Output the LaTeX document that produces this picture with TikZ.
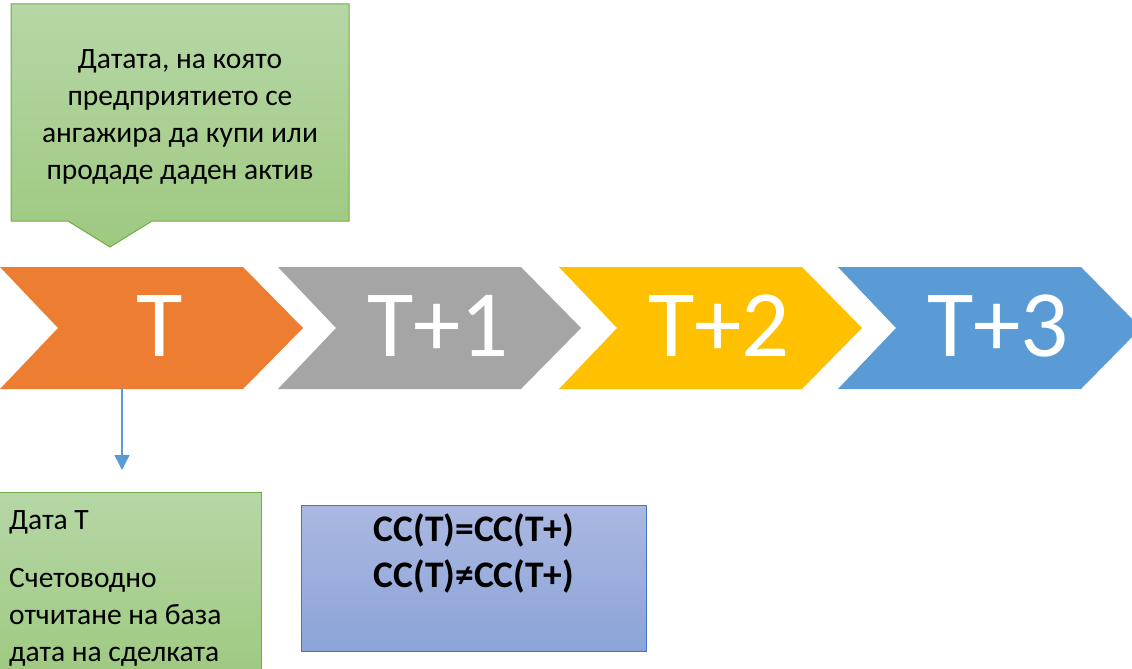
\documentclass[tikz,border=0pt]{standalone}
\usepackage{fontspec}
\setmainfont{Carlito}
\usetikzlibrary{arrows.meta}
\definecolor{corange}{HTML}{ED7D31}
\definecolor{cgray}{HTML}{A5A5A5}
\definecolor{cyellow}{HTML}{FFC000}
\definecolor{cblue}{HTML}{5B9BD5}
\definecolor{gtop}{RGB}{182,215,166}
\definecolor{gbot}{RGB}{158,201,128}
\definecolor{gedge}{HTML}{70AD47}
\definecolor{btop}{RGB}{170,184,225}
\definecolor{bbot}{RGB}{140,164,216}
\definecolor{bedge}{HTML}{4472C4}
\begin{document}
\begin{tikzpicture}[x=1pt,y=-1pt,
  chevtext/.style={text=white,font=\fontsize{95}{95}\selectfont,inner sep=0pt},
  greenbox/.style={draw=gedge,line width=1pt,top color=gtop,bottom color=gbot},
  bluebox/.style={draw=bedge,line width=1pt,top color=btop,bottom color=bbot},
  bodytext/.style={font=\fontsize{29.5}{37}\selectfont,inner sep=0pt},
  conn/.style={draw=cblue,line width=1.5pt,-{Triangle[length=15pt,width=15pt]}}]
\useasboundingbox (0,0) rectangle (1132,669);
\clip (0,0) rectangle (1132,669);
% chevrons
\foreach \x/\c/\t/\n in {0/corange/T/c0, 278/cgray/T+1/c1, 559/cyellow/T+2/c2, 838/cblue/T+3/c3}{
  \fill[\c] (\x,267) -- ++(243,0) -- ++(60,61) -- ++(-60,61) -- ++(-243,0) -- ++(58,-61) -- cycle;
  \node[chevtext] (\n) at (\x+160,326) {\t};
}
% top callout
\path[greenbox] (11,4) -- (349,4) -- (349,221) -- (152,221) -- (110,247) -- (68,221) -- (11,221) -- cycle;
\node[bodytext,align=center] (top) at (180,117) {Датата, на която\\предприятието се\\ангажира да купи или\\продаде даден актив};
% bottom green box
\path[greenbox] (-5,492) rectangle (261,680);
\node[bodytext,align=left,anchor=north west] (dt) at (9,510) {Дата Т};
\node[bodytext,align=left,anchor=north west] (acc) at (9,568) {Счетоводно\\отчитане на база\\дата на сделката};
% blue box
\path[bluebox] (301,505) rectangle (646,651);
\node[font=\bfseries\fontsize{37.5}{46}\selectfont,align=center,inner sep=0pt] (cc) at (474,553) {СС(Т)=СС(Т+)\\СС(Т)≠СС(Т+)};
% connector
\coordinate (s) at (122,388);
\coordinate (e) at (122,470);
\draw[conn] (s) -- (e);
\end{tikzpicture}
\end{document}
